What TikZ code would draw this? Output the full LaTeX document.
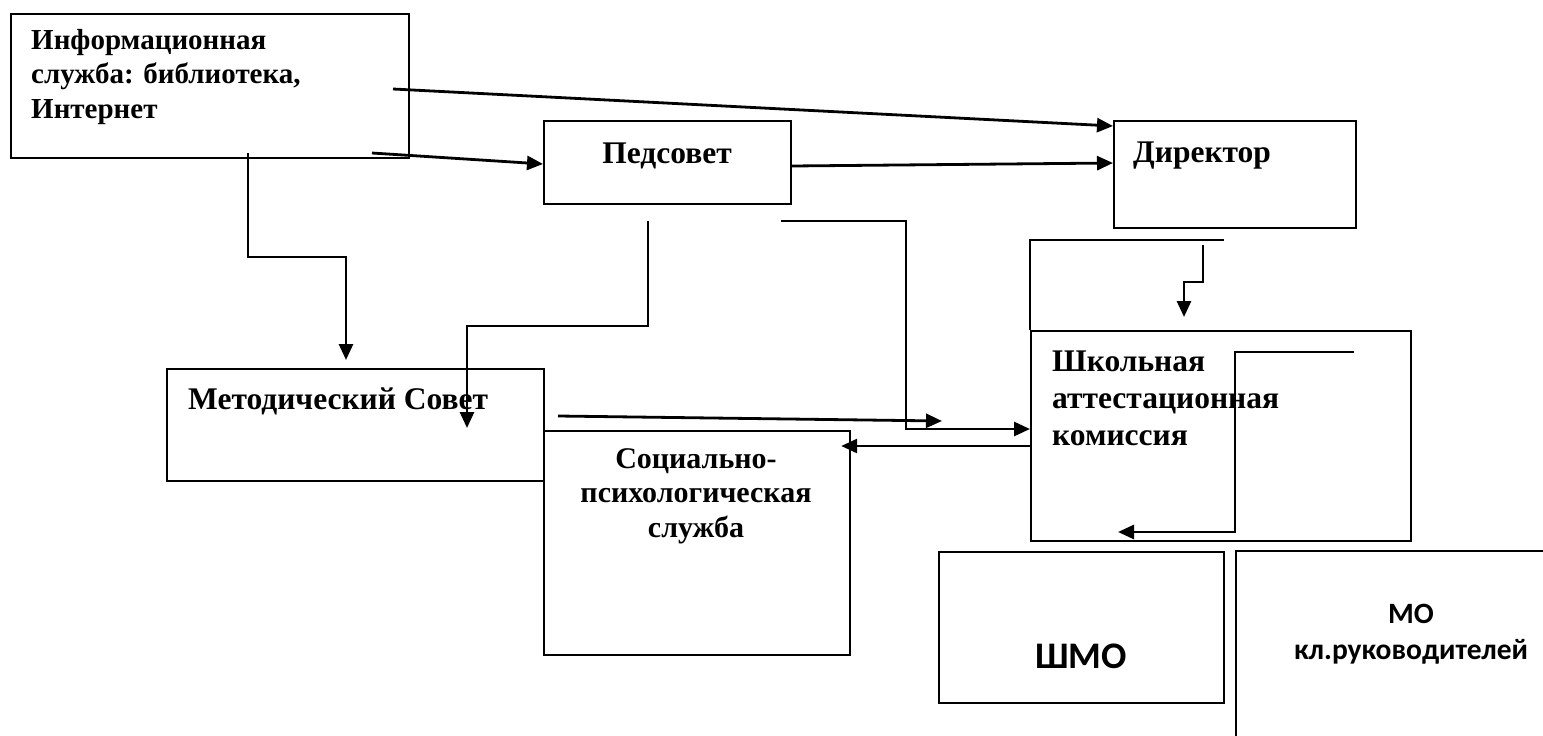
\documentclass[tikz,border=0pt]{standalone}
\usepackage{fontspec}
\setmainfont{Liberation Serif}
\newfontfamily\calfont{Carlito}
\usetikzlibrary{arrows.meta,calc}

\begin{document}
\begin{tikzpicture}[x=1pt,y=1pt,yscale=-1,xscale=1,
  box/.style={draw, line width=2.2pt, anchor=north west, inner sep=0pt},
  lbl/.style={inner sep=0pt, font=\bfseries\fontsize{31.5}{36}\selectfont},
  sanslbl/.style={inner sep=0pt, font=\calfont\bfseries\fontsize{29.5}{36}\selectfont},
  conn/.style={line width=2.8pt},
  arr/.style={conn, -{Triangle[length=16pt,width=14pt]}}]
\useasboundingbox (0,0) rectangle (1543,736);

%Shape: Rectangle [info]
\node[box, minimum width=398pt, minimum height=144pt] (info) at (10,13) {};
%Shape: Rectangle [ped]
\node[box, minimum width=247pt, minimum height=83pt] (ped) at (543,120) {};
%Shape: Rectangle [dir]
\node[box, minimum width=242pt, minimum height=107pt] (dir) at (1113,120) {};
%Shape: Rectangle [met]
\node[box, minimum width=377pt, minimum height=112pt] (met) at (166,368) {};
%Shape: Rectangle [soc]
\node[box, minimum width=306pt, minimum height=224pt] (soc) at (543,430) {};
%Shape: Rectangle [shak]
\node[box, minimum width=380pt, minimum height=210pt] (shak) at (1030,330) {};
%Shape: Rectangle [shmo]
\node[box, minimum width=285pt, minimum height=151pt] (shmo) at (938,551) {};
%Shape: Rectangle [mo]
\node[box, minimum width=352pt, minimum height=220pt] (mo) at (1235,550) {};

% Text Node (base = last line)
\node[lbl, anchor=base west, align=left, font=\bfseries\fontsize{29}{34.5}\selectfont] (infotxt) at (31,118) {Информационная\\служба: библиотека,\\Интернет};
% Text Node
\node[lbl, anchor=base] (pedtxt) at (667,163) {Педсовет};
% Text Node
\node[lbl, anchor=base west] (dirtxt) at (1133,162) {Директор};
% Text Node
\node[lbl, anchor=base west] (mettxt) at (188,409) {Методический Совет};
% Text Node
\node[lbl, anchor=base, align=center, font=\bfseries\fontsize{30}{34.5}\selectfont] (soctxt) at (696,537) {Социально-\\психологическая\\служба};
% Text Node
\node[lbl, anchor=base west, align=left, font=\bfseries\fontsize{31.5}{37}\selectfont] (shaktxt) at (1052,445) {Школьная\\аттестационная\\комиссия};
% Text Node
\node[sanslbl, anchor=base, font=\calfont\bfseries\fontsize{37.5}{40}\selectfont] (shmotxt) at (1081,668) {ШМО};
% Text Node
\node[sanslbl, anchor=base, align=center] (motxt) at (1411,659) {МО\\кл.руководителей};

% free ends
\coordinate (infoA) at (393,89);
\coordinate (infoB) at (372,153);
\coordinate (infoC) at (248,153);
\coordinate (pedA) at (648,221);
\coordinate (pedB) at (781,221);
\coordinate (metA) at (558,416);
\coordinate (metB) at (942,421);
\coordinate (methit) at (467,428);
\coordinate (brk) at (1224,240);
\coordinate (dirA) at (1203,245);
\coordinate (shakA) at (1354,352);
\coordinate (shakB) at (1118,532);

%Straight Lines
\draw[arr] (infoA) -- ($(dir.north west)+(0,6)$);
\draw[arr] (infoB) -- ($(ped.north west)+(0,44)$);
\draw[arr] (infoC) -- ++(0,104) -| ($(met.north west)+(180,-8)$);
\draw[arr] ($(ped.north east)+(0,46)$) -- ($(dir.north west)+(0,43)$);
\draw[arr] (pedA) -- ++(0,105) -| (methit);
\draw[arr] (pedB) -- ++(125,0) |- ($(shak.north west)+(0,99)$);
\draw[arr] (metA) -- (metB);
\draw[arr] ($(shak.north west)+(0,116)$) -- ($(soc.north east)+(-10,16)$);
\draw[conn] (brk) -| (shak.north west);
\draw[arr] (dirA) -- ++(0,37) -| ($(shak.north west)+(154,-13)$);
\draw[arr] (shakA) -- ++(-119,0) |- (shakB);

\end{tikzpicture}
\end{document}
